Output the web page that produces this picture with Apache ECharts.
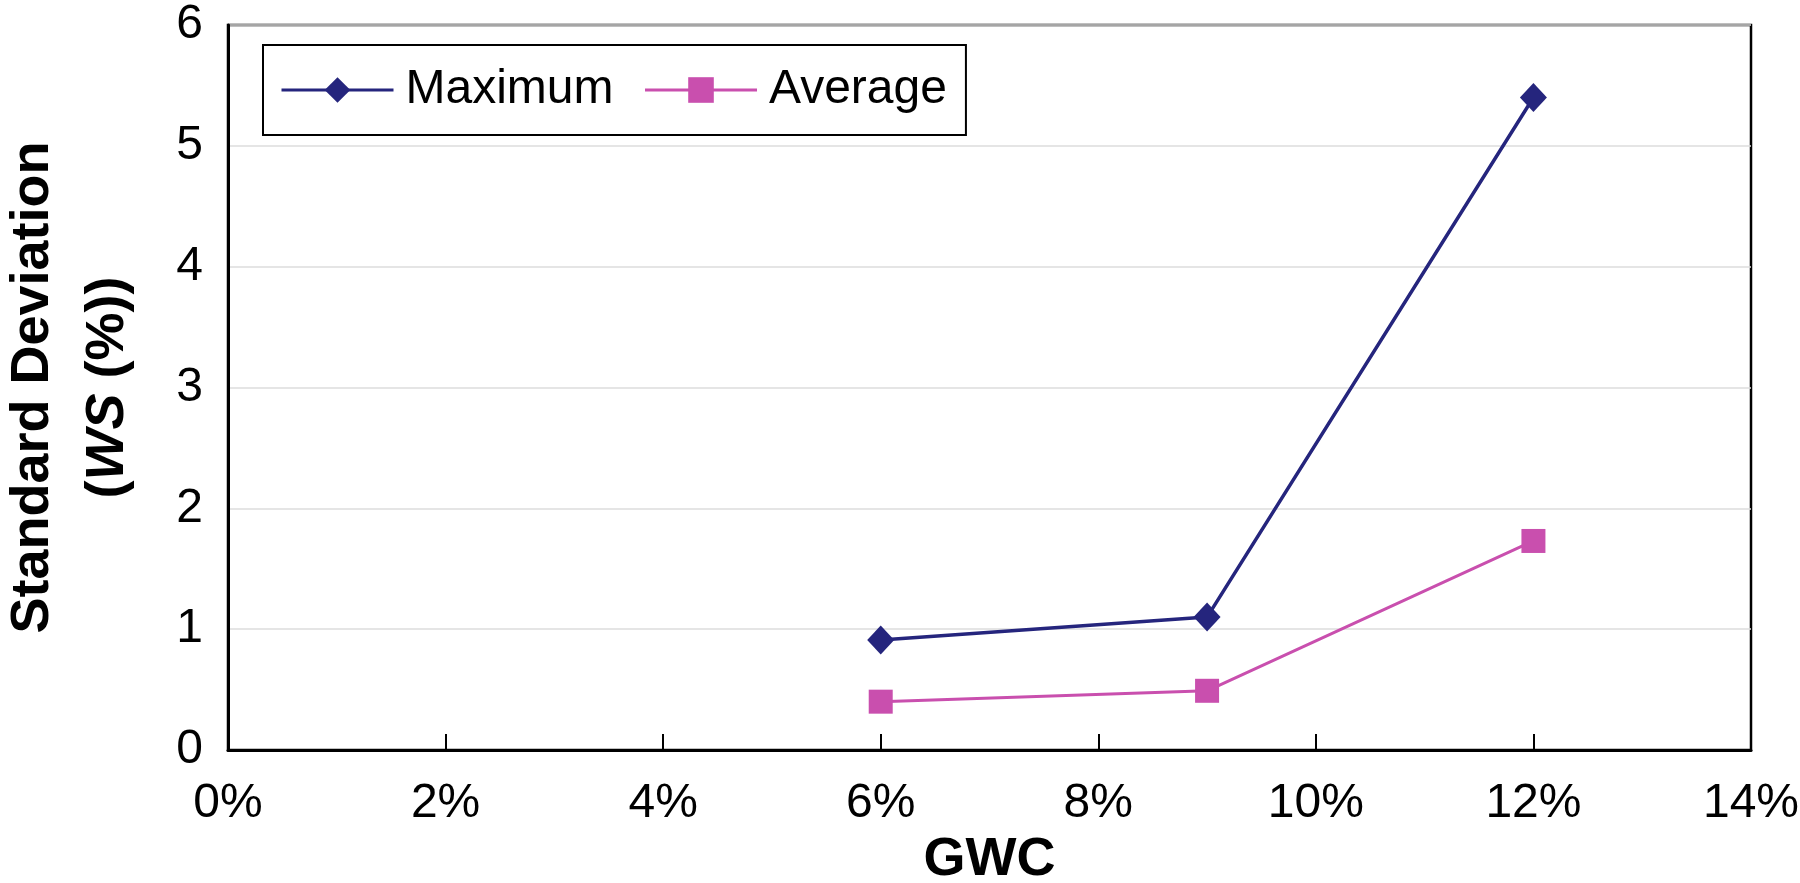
<!DOCTYPE html>
<html>
<head>
<meta charset="utf-8">
<script src="https://cdn.jsdelivr.net/npm/echarts@6/dist/echarts.min.js"></script>
<style>
html,body{margin:0;padding:0;background:#fff;}
#chart{width:1800px;height:883px;}
</style>
</head>
<body>
<div id="chart"></div>
<script>
// GWC values (%)
const gwc = [6, 9, 12];
// Standard deviation of WS (%)
const maximumValues = [0.91, 1.1, 5.4];
const averageValues = [0.4, 0.49, 1.73];
const seriesNames = ['Maximum', 'Average'];
const xTicks = {min: 0, max: 14, interval: 2};
const yTicks = {min: 0, max: 6, interval: 1};

const FONT = '"Liberation Sans", Arial, sans-serif';
const chart = echarts.init(document.getElementById('chart'), null, {renderer: 'canvas'});

function pairs(xs, ys) { return xs.map((x, i) => [x, ys[i]]); }

chart.setOption({
  animation: false,
  backgroundColor: '#ffffff',
  grid: {
    left: 228, right: 49, top: 25, bottom: 133,
    containLabel: false, outerBoundsMode: 'none',
    show: true, borderColor: '#000', borderWidth: 2.5, backgroundColor: 'transparent'
  },
  legend: {
    left: 263, top: 45,
    orient: 'horizontal',
    backgroundColor: '#fff',
    borderColor: '#000', borderWidth: 2,
    padding: [21, 19, 21, 17],
    itemWidth: 112, itemHeight: 32, itemGap: 30,
    lineStyle: {width: 3},
    textStyle: {fontFamily: FONT, fontSize: 48, color: '#000', lineHeight: 48, padding: [0, 0, 0, 7]},
    data: seriesNames
  },
  xAxis: {
    type: 'value',
    min: xTicks.min, max: xTicks.max, interval: xTicks.interval,
    name: 'GWC', nameLocation: 'middle', nameGap: 80,
    nameTextStyle: {fontFamily: FONT, fontSize: 54, fontWeight: 'bold', color: '#000'},
    axisLine: {show: true, lineStyle: {color: '#000', width: 3}},
    axisTick: {show: true, inside: true, length: 16, lineStyle: {color: '#000', width: 2}},
    axisLabel: {formatter: '{value}%', fontFamily: FONT, fontSize: 48, color: '#000', margin: 30},
    splitLine: {show: false}
  },
  yAxis: {
    type: 'value',
    min: yTicks.min, max: yTicks.max, interval: yTicks.interval,
    name: 'Standard Deviation\n({i|WS} (%))',
    nameLocation: 'middle', nameRotate: 90, nameGap: 82,
    nameTextStyle: {
      fontFamily: FONT, fontSize: 54, fontWeight: 'bold', color: '#000', lineHeight: 75,
      rich: {i: {fontFamily: FONT, fontSize: 54, fontWeight: 'bold', fontStyle: 'italic', color: '#000', lineHeight: 75}}
    },
    axisLine: {show: true, lineStyle: {color: '#000', width: 3}},
    axisTick: {show: false},
    axisLabel: {fontFamily: FONT, fontSize: 48, color: '#000', margin: 25},
    splitLine: {show: true, lineStyle: {color: '#dcdcdc', width: 1.5}}
  },
  series: [
    {
      name: seriesNames[0], type: 'line',
      data: pairs(gwc, maximumValues),
      symbol: 'diamond', symbolSize: [27, 29],
      lineStyle: {color: '#25257d', width: 3.5},
      itemStyle: {color: '#25257d'},
      z: 3
    },
    {
      name: seriesNames[1], type: 'line',
      data: pairs(gwc, averageValues),
      symbol: 'rect', symbolSize: 24,
      lineStyle: {color: '#c94fae', width: 3},
      itemStyle: {color: '#c94fae'},
      z: 2
    }
  ]
});
</script>
</body>
</html>
